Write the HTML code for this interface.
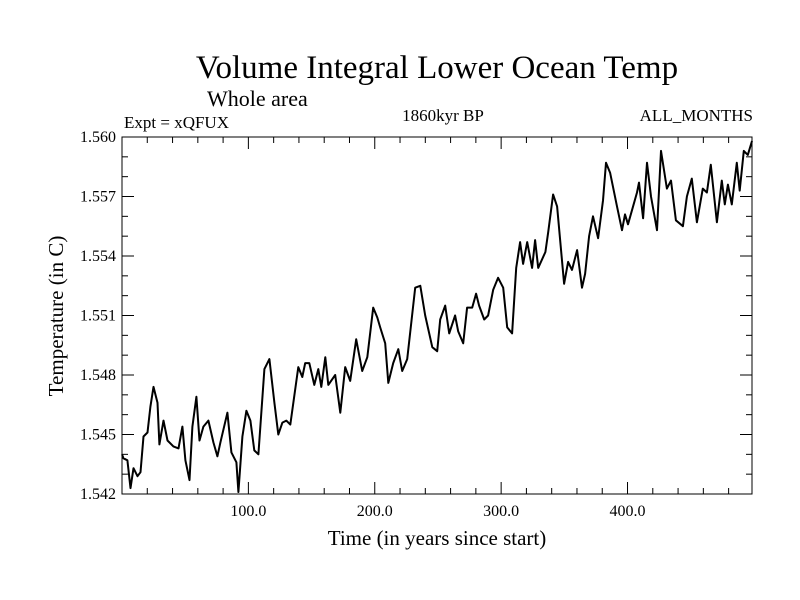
<!DOCTYPE html>
<html><head><meta charset="utf-8"><style>
body{margin:0;background:#fff}
svg{display:block;font-family:"Liberation Serif",serif}
</style></head><body>
<svg width="800" height="600">
<text x="437" y="78" font-size="33" text-anchor="middle">Volume Integral Lower Ocean Temp</text>
<text x="207" y="106" font-size="22">Whole area</text>
<text x="124" y="128" font-size="17">Expt = xQFUX</text>
<text x="443" y="121" font-size="17" text-anchor="middle">1860kyr BP</text>
<text x="753" y="121" font-size="17" text-anchor="end">ALL_MONTHS</text>
<text x="437" y="545" font-size="21" text-anchor="middle">Time (in years since start)</text>
<text transform="translate(63,316) rotate(-90)" font-size="21" text-anchor="middle">Temperature (in C)</text>
<g id="axes"></g>
<path id="line" fill="none" stroke="#000" stroke-width="2" stroke-linejoin="round"/>
<rect x="122" y="137" width="630" height="357" fill="none" stroke="#000" stroke-width="1"/>
</svg>
<script>
const years=[0,1.2,4.3,6.7,9.1,12.3,14.6,17.0,20.2,22.5,24.9,28.1,29.6,32.8,36.0,40.7,44.7,47.8,50.2,53.4,55.7,58.9,61.3,64.4,68.4,72.3,75.5,77.9,83.4,86.6,90.5,92.1,95.3,98.4,101.6,104.7,107.9,112.7,116.6,120.6,123.7,126.9,130.0,133.2,139.5,142.7,145.0,148.2,152.2,155.3,157.7,160.9,163.2,
168.7,172.7,176.6,180.6,185.3,190.1,194.1,198.8,202.0,204.3,208.3,210.7,214.6,218.6,221.7,225.7,232.0,236.0,239.9,245.5,249.4,251.8,255.7,258.9,263.6,266.0,270.0,273.1,277.1,280.2,282.6,286.6,289.7,293.7,297.6,301.6,304.8,308.7,311.9,315.0,317.4,320.6,324.5,326.9,329.3,
335.0,337.2,341.1,344.3,349.8,353.0,356.1,360.1,364.0,366.4,369.6,372.7,376.7,380.6,383.0,386.2,391.7,395.6,398.0,400.4,407.5,409.1,412.3,415.4,418.6,423.3,426.5,431.2,434.4,438.3,443.8,447.0,450.9,454.9,459.6,462.8,465.9,470.7,474.6,477.0,479.4,482.5,486.5,488.8,492.0,495.2,498.5];
const temps=[1.5440,1.5438,1.5437,1.5423,1.5433,1.5429,1.5431,1.5449,1.5451,1.5464,1.5474,1.5466,1.5445,1.5457,1.5447,1.5444,1.5443,1.5454,1.5437,1.5427,1.5454,1.5469,1.5447,1.5454,1.5457,1.5446,1.5439,1.5446,1.5461,1.5441,1.5436,1.5421,1.5449,1.5462,1.5457,1.5442,1.5440,1.5483,1.5488,1.5466,1.5450,1.5456,1.5457,1.5455,1.5484,1.5479,1.5486,1.5486,1.5475,1.5483,1.5474,1.5489,1.5475,
1.5480,1.5461,1.5484,1.5477,1.5498,1.5482,1.5489,1.5514,1.5509,1.5504,1.5496,1.5476,1.5486,1.5493,1.5482,1.5488,1.5524,1.5525,1.5510,1.5494,1.5492,1.5508,1.5515,1.5501,1.5510,1.5502,1.5496,1.5514,1.5514,1.5521,1.5515,1.5508,1.5510,1.5523,1.5529,1.5524,1.5504,1.5501,1.5534,1.5547,1.5536,1.5547,1.5534,1.5548,1.5534,
1.5542,1.5552,1.5571,1.5565,1.5526,1.5537,1.5533,1.5543,1.5524,1.5531,1.5550,1.5560,1.5549,1.5568,1.5587,1.5582,1.5565,1.5553,1.5561,1.5556,1.5572,1.5577,1.5559,1.5587,1.5570,1.5553,1.5593,1.5574,1.5578,1.5558,1.5555,1.5570,1.5579,1.5557,1.5574,1.5572,1.5586,1.5557,1.5578,1.5566,1.5576,1.5566,1.5587,1.5573,1.5593,1.5591,1.5598];
const xTickLabels=[100,200,300,400];
const yTickLabels=[1.542,1.545,1.548,1.551,1.554,1.557,1.560];
const X0=122,X1=752,Y0=494,Y1=137,XMIN=0,XMAX=498.5,YMIN=1.542,YMAX=1.560;
function sx(v){return X0+(v-XMIN)/(XMAX-XMIN)*(X1-X0);}
function sy(v){return Y0-(v-YMIN)/(YMAX-YMIN)*(Y0-Y1);}
const NS="http://www.w3.org/2000/svg";
const g=document.getElementById('axes');
function ln(x1,y1,x2,y2,name){const l=document.createElementNS(NS,'line');
l.setAttribute('x1',x1);l.setAttribute('y1',y1);l.setAttribute('x2',x2);l.setAttribute('y2',y2);l.setAttribute('stroke','#000');


g.appendChild(l);}
function tx(x,y,s,anchor,name){const t=document.createElementNS(NS,'text');
t.setAttribute('x',x);t.setAttribute('y',y);t.setAttribute('font-size','16');t.setAttribute('text-anchor',anchor);t.textContent=s;


g.appendChild(t);}
for(let v=20;v<XMAX;v+=20){const x=sx(v);const major=v%100===0;const L=major?12:6;
ln(x,Y0,x,Y0-L,'x-tick');ln(x,Y1,x,Y1+L,'x-tick-top');}
xTickLabels.forEach(v=>tx(sx(v),516,v.toFixed(1),'middle','x-tick-label'));
for(let i=0;i<=18;i++){const v=YMIN+i*0.001;const y=sy(v);const major=i%3===0;const L=major?12:6;
ln(X0,y,X0+L,y,'y-tick');ln(X1,y,X1-L,y,'y-tick-right');}
yTickLabels.forEach(v=>tx(116,sy(v)+5,v.toFixed(3),'end','y-tick-label'));
let d='';years.forEach((yr,i)=>{d+=(i?'L':'M')+sx(yr).toFixed(1)+','+sy(temps[i]).toFixed(1);});
document.getElementById('line').setAttribute('d',d);
</script>
</body></html>
